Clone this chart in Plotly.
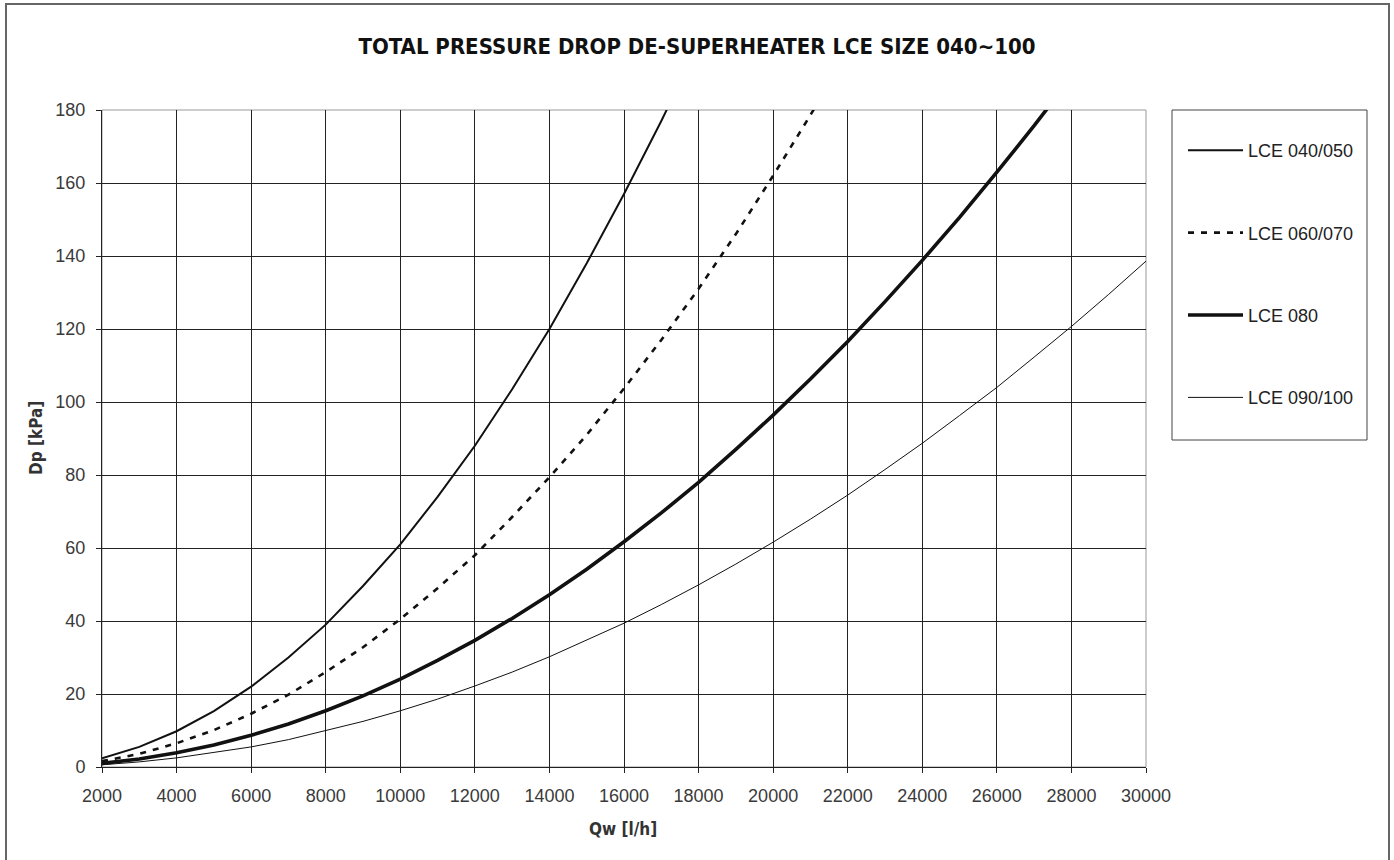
import plotly.graph_objects as go

# Flow rate Qw [l/h] and pressure drop Dp [kPa]
qw_a = [2000, 3000, 4000, 5000, 6000, 7000, 8000, 9000, 10000, 11000, 12000, 13000, 14000, 15000, 16000, 17000, 18000]
dp_a = [2.4, 5.5, 9.8, 15.3, 22, 30, 39, 49.6, 61, 74, 88, 103.5, 120, 138, 157, 177, 198]

qw_b = [2000, 3000, 4000, 5000, 6000, 7000, 8000, 9000, 10000, 11000, 12000, 13000, 14000, 15000, 16000, 17000, 18000, 19000, 20000, 21000, 22000]
dp_b = [1.6, 3.6, 6.5, 10.1, 14.6, 19.8, 26, 32.8, 40.5, 49, 58, 68.5, 79.4, 91, 103.7, 117, 131, 146, 162, 178.6, 196]

qw_c = [2000, 3000, 4000, 5000, 6000, 7000, 8000, 9000, 10000, 11000, 12000, 13000, 14000, 15000, 16000, 17000, 18000, 19000, 20000, 21000, 22000, 23000, 24000, 25000, 26000, 27000, 28000]
dp_c = [1.0, 2.2, 3.9, 6.0, 8.7, 11.8, 15.4, 19.5, 24.1, 29.2, 34.7, 40.7, 47.2, 54.2, 61.7, 69.6, 78, 87, 96.4, 106.3, 116.6, 127.5, 138.8, 150.6, 163, 175.7, 189]

qw_d = [2000, 3000, 4000, 5000, 6000, 7000, 8000, 9000, 10000, 11000, 12000, 13000, 14000, 15000, 16000, 17000, 18000, 19000, 20000, 21000, 22000, 23000, 24000, 25000, 26000, 27000, 28000, 29000, 30000]
dp_d = [0.6, 1.4, 2.5, 3.9, 5.5, 7.5, 9.9, 12.5, 15.4, 18.6, 22.2, 26, 30.2, 34.7, 39.4, 44.5, 49.9, 55.6, 61.6, 67.9, 74.5, 81.5, 88.7, 96.3, 104, 112.3, 120.7, 129.5, 138.6]

names = ["LCE 040/050", "LCE 060/070", "LCE 080", "LCE 090/100"]
x_ticks = [2000, 4000, 6000, 8000, 10000, 12000, 14000, 16000, 18000, 20000, 22000, 24000, 26000, 28000, 30000]
y_ticks = [0, 20, 40, 60, 80, 100, 120, 140, 160, 180]

title = "TOTAL PRESSURE DROP DE-SUPERHEATER LCE SIZE 040∼100"
x_title = "Qw [l/h]"
y_title = "Dp [kPa]"

W, H = 1394, 860
L, R, T, B = 102, 1146, 110, 767   # plot area in pixels
PW, PH = R - L, B - T


def px(x):
    return (x - L) / PW


def py(y):
    return (B - y) / PH


series = [(qw_a, dp_a), (qw_b, dp_b), (qw_c, dp_c), (qw_d, dp_d)]
styles = [dict(width=2, dash="solid"), dict(width=2.6, dash="6px,7px"),
          dict(width=3.6, dash="solid"), dict(width=1, dash="solid")]

fig = go.Figure()
for (xs, ys), nm, st in zip(series, names, styles):
    fig.add_trace(go.Scatter(x=xs, y=ys, name=nm, mode="lines", legendgroup=nm,
                             line=dict(color="#111111", width=st["width"], dash=st["dash"])))

tick_font = dict(family="Liberation Sans, Arial, sans-serif", size=18, color="#3a3a3a")
cond_bold = "Liberation Sans Narrow, DejaVu Sans Condensed, Arial Narrow, sans-serif"

fig.update_layout(
    width=W, height=H,
    paper_bgcolor="white", plot_bgcolor="white",
    margin=dict(l=L, r=W - R, t=T, b=H - B),
    title=dict(text="<b>" + title + "</b>", x=0.5, xanchor="center", xref="container",
               y=1 - 46 / H, yanchor="middle", yref="container",
               font=dict(family=cond_bold, size=22, color="#111111")),
    showlegend=True,
    legend=dict(x=px(1183), y=py(132), xanchor="left", yanchor="top",
                bgcolor="rgba(0,0,0,0)", borderwidth=0,
                font=dict(family="Liberation Sans, Arial, sans-serif", size=18, color="#222222"),
                tracegroupgap=56, itemwidth=55),
    xaxis=dict(range=[2000, 30000], tickvals=x_ticks, ticktext=[str(v) for v in x_ticks],
               showgrid=True, gridcolor="#222222", gridwidth=1,
               showline=True, linecolor="#222222", linewidth=1,
               ticks="outside", ticklen=5, tickcolor="#222222", ticklabelstandoff=7,
               tickfont=tick_font, zeroline=False),
    yaxis=dict(range=[0, 180], tickvals=y_ticks,
               showgrid=True, gridcolor="#222222", gridwidth=1,
               showline=True, linecolor="#222222", linewidth=1,
               ticks="outside", ticklen=5, tickcolor="#222222", ticklabelstandoff=7,
               tickfont=tick_font, zeroline=False),
    annotations=[
        dict(text="<b>" + x_title + "</b>", xref="paper", yref="paper", x=px(623), y=py(829),
             showarrow=False, xanchor="center", yanchor="middle",
             font=dict(family=cond_bold, size=17, color="#333333")),
        dict(text="<b>" + y_title + "</b>", xref="paper", yref="paper", x=px(36), y=py(438),
             showarrow=False, xanchor="center", yanchor="middle", textangle=-90,
             font=dict(family=cond_bold, size=17, color="#333333")),
    ],
    shapes=[
        dict(type="rect", xref="paper", yref="paper", x0=0, x1=1, y0=0, y1=1,
             line=dict(color="#999999", width=1), layer="below"),
        dict(type="rect", xref="paper", yref="paper",
             x0=px(1172), x1=px(1367), y0=py(440), y1=py(110),
             line=dict(color="#444444", width=1)),
        dict(type="rect", xref="paper", yref="paper",
             x0=px(6), x1=px(1389), y0=py(880), y1=py(4),
             line=dict(color="#666666", width=2)),
    ],
)

fig.write_html("out.html", config={"displayModeBar": False},
               post_script="document.body.style.margin='0';document.body.style.overflow='hidden';")
